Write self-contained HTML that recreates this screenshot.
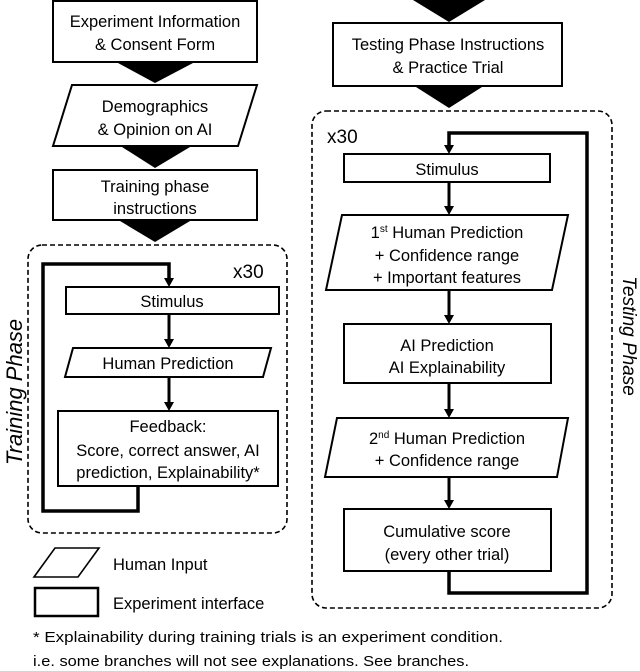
<!DOCTYPE html>
<html><head><meta charset="utf-8"><style>
html,body{margin:0;padding:0;background:#fff;}
svg{display:block;}
text{font-family:"Liberation Sans",sans-serif;fill:#000;}
</style></head><body>
<svg width="640" height="671" viewBox="0 0 640 671" xmlns="http://www.w3.org/2000/svg">
<g font-size="16.5" text-anchor="middle">
<!-- Left column -->
<rect x="53" y="1" width="204" height="61" fill="#fff" stroke="#000" stroke-width="2"/>
<text x="155" y="27">Experiment Information</text>
<text x="155" y="50">&amp; Consent Form</text>
<polygon points="118,63 193,63 155,83" fill="#000"/>
<polygon points="72,85 257,85 238,146 53,146" fill="#fff" stroke="#000" stroke-width="2"/>
<text x="155" y="112">Demographics</text>
<text x="155" y="135">&amp; Opinion on AI</text>
<polygon points="122,147 190,147 155,168" fill="#000"/>
<rect x="53" y="170" width="204" height="50" fill="#fff" stroke="#000" stroke-width="2"/>
<text x="155" y="192">Training phase</text>
<text x="155" y="214">instructions</text>
<polygon points="120,221 190,221 155,242" fill="#000"/>

<rect x="28" y="245" width="259" height="288" rx="14" fill="none" stroke="#000" stroke-width="1.6" stroke-dasharray="5,3"/>
<text x="233" y="278" text-anchor="start" font-size="19">x30</text>
<polyline points="138,486 138,511 43,511 43,264 169,264 169,279" fill="none" stroke="#000" stroke-width="3.5"/>
<polygon points="164,278 174,278 169,287" fill="#000"/>
<rect x="66" y="287" width="213" height="27" fill="#fff" stroke="#000" stroke-width="2"/>
<text x="172" y="307">Stimulus</text>
<line x1="169" y1="314" x2="169" y2="340" stroke="#000" stroke-width="3"/>
<polygon points="164,339 174,339 169,348" fill="#000"/>
<polygon points="73,348 271,348 263,377 65,377" fill="#fff" stroke="#000" stroke-width="2"/>
<text x="168" y="369">Human Prediction</text>
<line x1="169" y1="377" x2="169" y2="403" stroke="#000" stroke-width="3"/>
<polygon points="164,402 174,402 169,411" fill="#000"/>
<rect x="58" y="411" width="220" height="75" fill="#fff" stroke="#000" stroke-width="2"/>
<text x="168" y="432">Feedback:</text>
<text x="168" y="456">Score, correct answer, AI</text>
<text x="168" y="478">prediction, Explainability*</text>

<text transform="translate(22,392) rotate(-90)" font-size="22" font-style="italic">Training Phase</text>

<!-- Legend -->
<polygon points="55,548 99,548 78,577 34,577" fill="#fff" stroke="#000" stroke-width="1.6"/>
<text x="113" y="570" text-anchor="start">Human Input</text>
<rect x="35" y="588" width="63" height="28" fill="#fff" stroke="#000" stroke-width="2.5"/>
<text x="113" y="609" text-anchor="start">Experiment interface</text>

<!-- Right column -->
<polygon points="413,0 485,0 449,22" fill="#000"/>
<rect x="333" y="23" width="229" height="63" fill="#fff" stroke="#000" stroke-width="2"/>
<text x="448" y="50">Testing Phase Instructions</text>
<text x="448" y="73">&amp; Practice Trial</text>
<polygon points="416,87 482,87 449,108" fill="#000"/>

<rect x="312" y="111" width="300" height="497" rx="14" fill="none" stroke="#000" stroke-width="1.6" stroke-dasharray="5,3"/>
<text x="327" y="143" text-anchor="start" font-size="19">x30</text>
<polyline points="449,571 449,593 587,593 587,133 449,133 449,146" fill="none" stroke="#000" stroke-width="3.5"/>
<polygon points="444,145 454,145 449,154" fill="#000"/>
<rect x="344" y="154" width="206" height="28" fill="#fff" stroke="#000" stroke-width="2"/>
<text x="447" y="175">Stimulus</text>
<line x1="449" y1="182" x2="449" y2="207" stroke="#000" stroke-width="3"/>
<polygon points="444,206 454,206 449,215" fill="#000"/>
<polygon points="342,215 568,215 552,290 326,290" fill="#fff" stroke="#000" stroke-width="2"/>
<text x="447" y="238">1<tspan font-size="10" dy="-6">st</tspan><tspan dy="6"> Human Prediction</tspan></text>
<text x="447" y="261">+ Confidence range</text>
<text x="447" y="283">+ Important features</text>
<line x1="449" y1="290" x2="449" y2="316" stroke="#000" stroke-width="3"/>
<polygon points="444,315 454,315 449,324" fill="#000"/>
<rect x="344" y="324" width="207" height="59" fill="#fff" stroke="#000" stroke-width="2"/>
<text x="447" y="351">AI Prediction</text>
<text x="447" y="373">AI Explainability</text>
<line x1="449" y1="383" x2="449" y2="410" stroke="#000" stroke-width="3"/>
<polygon points="444,409 454,409 449,418" fill="#000"/>
<polygon points="337,418 568,418 557,477 325,477" fill="#fff" stroke="#000" stroke-width="2"/>
<text x="447" y="444">2<tspan font-size="10" dy="-6">nd</tspan><tspan dy="6"> Human Prediction</tspan></text>
<text x="447" y="466">+ Confidence range</text>
<line x1="449" y1="477" x2="449" y2="501" stroke="#000" stroke-width="3"/>
<polygon points="444,500 454,500 449,509" fill="#000"/>
<rect x="344" y="509" width="207" height="62" fill="#fff" stroke="#000" stroke-width="2"/>
<text x="447" y="537">Cumulative score</text>
<text x="447" y="560">(every other trial)</text>

<text transform="translate(623,336) rotate(90)" font-size="19" font-style="italic">Testing Phase</text>

<!-- footnote -->
<text x="33" y="642" font-size="15" text-anchor="start" textLength="470" lengthAdjust="spacingAndGlyphs">* Explainability during training trials is an experiment condition.</text>
<text x="33" y="666" font-size="15" text-anchor="start" textLength="436" lengthAdjust="spacingAndGlyphs">i.e. some branches will not see explanations. See branches.</text>
</g>
</svg>
</body></html>
